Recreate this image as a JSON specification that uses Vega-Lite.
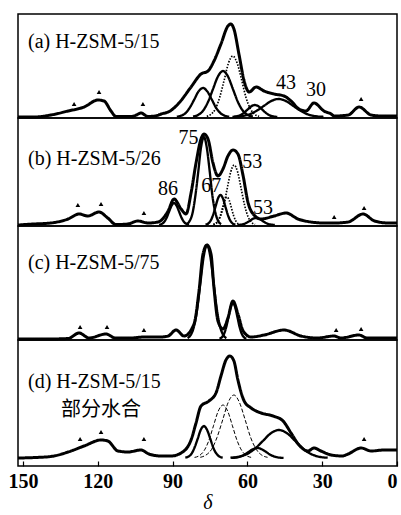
{
"$schema":"https://vega.github.io/schema/vega-lite/v6.json",
"padding":{"left":7,"top":13,"right":0,"bottom":0},
"background":"white",
"spacing":0,
"bounds":"flush",
"config":{"view":{"stroke":"black","strokeWidth":1.5},
"axis":{"labelFont":"Liberation Serif","labelFontSize":20,"labelFontWeight":"bold","labelColor":"black","tickColor":"black","tickWidth":1.2,"titleFont":"Liberation Serif","titleFontSize":20,"titleFontStyle":"italic","titleFontWeight":"normal","titleColor":"black"}},
"datasets":{"s":[
{"p":"a","c":"m","k":"m","d":152,"i":0},{"p":"a","c":"m","k":"m","d":145.6,"i":0},{"p":"a","c":"m","k":"m","d":138.8,"i":2},{"p":"a","c":"m","k":"m","d":131.9,"i":6},{"p":"a","c":"m","k":"m","d":125.5,"i":10},{"p":"a","c":"m","k":"m","d":119.9,"i":17},{"p":"a","c":"m","k":"m","d":117.5,"i":16},{"p":"a","c":"m","k":"m","d":114.7,"i":6},{"p":"a","c":"m","k":"m","d":112.7,"i":0.5},{"p":"a","c":"m","k":"m","d":106.7,"i":0.5},{"p":"a","c":"m","k":"m","d":104.5,"i":2},{"p":"a","c":"m","k":"m","d":102.7,"i":4},{"p":"a","c":"m","k":"m","d":99.9,"i":0.5},{"p":"a","c":"m","k":"m","d":97,"i":1},{"p":"a","c":"m","k":"m","d":94.6,"i":3},{"p":"a","c":"m","k":"m","d":91,"i":6},{"p":"a","c":"m","k":"m","d":87.8,"i":13},{"p":"a","c":"m","k":"m","d":82.6,"i":30},{"p":"a","c":"m","k":"m","d":78.6,"i":43},{"p":"a","c":"m","k":"m","d":75.8,"i":46},{"p":"a","c":"m","k":"m","d":73.4,"i":56},{"p":"a","c":"m","k":"m","d":70.6,"i":73},{"p":"a","c":"m","k":"m","d":67.8,"i":91},{"p":"a","c":"m","k":"m","d":66.6,"i":93},{"p":"a","c":"m","k":"m","d":65.4,"i":88},{"p":"a","c":"m","k":"m","d":63.4,"i":63},{"p":"a","c":"m","k":"m","d":61.3,"i":36},{"p":"a","c":"m","k":"m","d":59.3,"i":25},{"p":"a","c":"m","k":"m","d":56.5,"i":30},{"p":"a","c":"m","k":"m","d":53.3,"i":26},{"p":"a","c":"m","k":"m","d":49.3,"i":23},{"p":"a","c":"m","k":"m","d":45.3,"i":21},{"p":"a","c":"m","k":"m","d":42.5,"i":16},{"p":"a","c":"m","k":"m","d":39.3,"i":8},{"p":"a","c":"m","k":"m","d":36.5,"i":6},{"p":"a","c":"m","k":"m","d":33.3,"i":14},{"p":"a","c":"m","k":"m","d":29.3,"i":6},{"p":"a","c":"m","k":"m","d":26.4,"i":3},{"p":"a","c":"m","k":"m","d":25.2,"i":1},{"p":"a","c":"m","k":"m","d":19.6,"i":2},{"p":"a","c":"m","k":"m","d":15.2,"i":10},{"p":"a","c":"m","k":"m","d":10.4,"i":2},{"p":"a","c":"m","k":"m","d":6.4,"i":1},{"p":"a","c":"m","k":"m","d":0,"i":1},
{"p":"a","c":"c1","k":"s","d":88.3,"i":0.3},{"p":"a","c":"c1","k":"s","d":86.6,"i":1.3},{"p":"a","c":"c1","k":"s","d":84.8,"i":3.9},{"p":"a","c":"c1","k":"s","d":83.1,"i":9.4},{"p":"a","c":"c1","k":"s","d":81.3,"i":17.6},{"p":"a","c":"c1","k":"s","d":79.6,"i":25.6},{"p":"a","c":"c1","k":"s","d":77.8,"i":29},{"p":"a","c":"c1","k":"s","d":76.1,"i":25.6},{"p":"a","c":"c1","k":"s","d":74.3,"i":17.6},{"p":"a","c":"c1","k":"s","d":72.6,"i":9.4},{"p":"a","c":"c1","k":"s","d":70.8,"i":3.9},{"p":"a","c":"c1","k":"s","d":69.1,"i":1.3},{"p":"a","c":"c1","k":"s","d":67.3,"i":0.3},
{"p":"a","c":"c2","k":"s","d":81.8,"i":0.5},{"p":"a","c":"c2","k":"s","d":79.8,"i":2},{"p":"a","c":"c2","k":"s","d":77.8,"i":6.2},{"p":"a","c":"c2","k":"s","d":75.8,"i":15},{"p":"a","c":"c2","k":"s","d":73.8,"i":27.9},{"p":"a","c":"c2","k":"s","d":71.8,"i":40.6},{"p":"a","c":"c2","k":"s","d":69.8,"i":46},{"p":"a","c":"c2","k":"s","d":67.8,"i":40.6},{"p":"a","c":"c2","k":"s","d":65.8,"i":27.9},{"p":"a","c":"c2","k":"s","d":63.8,"i":15},{"p":"a","c":"c2","k":"s","d":61.8,"i":6.2},{"p":"a","c":"c2","k":"s","d":59.8,"i":2},{"p":"a","c":"c2","k":"s","d":57.8,"i":0.5},
{"p":"a","c":"c3","k":"t","d":76.3,"i":0.7},{"p":"a","c":"c3","k":"t","d":74.6,"i":2.7},{"p":"a","c":"c3","k":"t","d":72.8,"i":8.2},{"p":"a","c":"c3","k":"t","d":71.1,"i":19.8},{"p":"a","c":"c3","k":"t","d":69.3,"i":37},{"p":"a","c":"c3","k":"t","d":67.6,"i":53.8},{"p":"a","c":"c3","k":"t","d":65.8,"i":61},{"p":"a","c":"c3","k":"t","d":64.1,"i":53.8},{"p":"a","c":"c3","k":"t","d":62.3,"i":37},{"p":"a","c":"c3","k":"t","d":60.6,"i":19.8},{"p":"a","c":"c3","k":"t","d":58.8,"i":8.2},{"p":"a","c":"c3","k":"t","d":57.1,"i":2.7},{"p":"a","c":"c3","k":"t","d":55.3,"i":0.7},
{"p":"a","c":"c4","k":"s","d":65.5,"i":0.2},{"p":"a","c":"c4","k":"s","d":62.5,"i":0.8},{"p":"a","c":"c4","k":"s","d":59.5,"i":2.4},{"p":"a","c":"c4","k":"s","d":56.5,"i":5.9},{"p":"a","c":"c4","k":"s","d":53.5,"i":10.9},{"p":"a","c":"c4","k":"s","d":50.5,"i":15.9},{"p":"a","c":"c4","k":"s","d":47.5,"i":18},{"p":"a","c":"c4","k":"s","d":44.5,"i":15.9},{"p":"a","c":"c4","k":"s","d":41.5,"i":10.9},{"p":"a","c":"c4","k":"s","d":38.5,"i":5.9},{"p":"a","c":"c4","k":"s","d":35.5,"i":2.4},{"p":"a","c":"c4","k":"s","d":32.5,"i":0.8},{"p":"a","c":"c4","k":"s","d":29.5,"i":0.2},
{"p":"a","c":"c5","k":"s","d":66,"i":0.1},{"p":"a","c":"c5","k":"s","d":64.5,"i":0.5},{"p":"a","c":"c5","k":"s","d":63,"i":1.6},{"p":"a","c":"c5","k":"s","d":61.5,"i":3.9},{"p":"a","c":"c5","k":"s","d":60,"i":7.3},{"p":"a","c":"c5","k":"s","d":58.5,"i":10.6},{"p":"a","c":"c5","k":"s","d":57,"i":12},{"p":"a","c":"c5","k":"s","d":55.5,"i":10.6},{"p":"a","c":"c5","k":"s","d":54,"i":7.3},{"p":"a","c":"c5","k":"s","d":52.5,"i":3.9},{"p":"a","c":"c5","k":"s","d":51,"i":1.6},{"p":"a","c":"c5","k":"s","d":49.5,"i":0.5},{"p":"a","c":"c5","k":"s","d":48,"i":0.1},
{"p":"a","k":"st","d":129.5,"i":13},{"p":"a","k":"st","d":119.5,"i":25},{"p":"a","k":"st","d":101.9,"i":13},{"p":"a","k":"st","d":14.4,"i":18},
{"p":"a","k":"tt","d":148,"i":69,"t":"(a) H-ZSM-5/15"},
{"p":"a","k":"nm","d":44.5,"i":28,"t":"43"},{"p":"a","k":"nm","d":32.5,"i":21,"t":"30"},

{"p":"b","c":"m","k":"m","d":152,"i":0},{"p":"b","c":"m","k":"m","d":145.6,"i":1},{"p":"b","c":"m","k":"m","d":138.8,"i":2},{"p":"b","c":"m","k":"m","d":131.9,"i":6},{"p":"b","c":"m","k":"m","d":127.5,"i":11},{"p":"b","c":"m","k":"m","d":124,"i":9},{"p":"b","c":"m","k":"m","d":119.5,"i":13},{"p":"b","c":"m","k":"m","d":116,"i":7},{"p":"b","c":"m","k":"m","d":112.7,"i":0.5},{"p":"b","c":"m","k":"m","d":108,"i":1},{"p":"b","c":"m","k":"m","d":103.9,"i":4},{"p":"b","c":"m","k":"m","d":99.9,"i":2},{"p":"b","c":"m","k":"m","d":95.8,"i":3},{"p":"b","c":"m","k":"m","d":91.8,"i":14},{"p":"b","c":"m","k":"m","d":89.4,"i":26},{"p":"b","c":"m","k":"m","d":86.6,"i":16},{"p":"b","c":"m","k":"m","d":84.6,"i":11},{"p":"b","c":"m","k":"m","d":82.6,"i":32},{"p":"b","c":"m","k":"m","d":80.6,"i":62},{"p":"b","c":"m","k":"m","d":78.6,"i":86},{"p":"b","c":"m","k":"m","d":77.4,"i":91},{"p":"b","c":"m","k":"m","d":75.8,"i":86},{"p":"b","c":"m","k":"m","d":73.8,"i":62},{"p":"b","c":"m","k":"m","d":71.8,"i":49},{"p":"b","c":"m","k":"m","d":69.8,"i":56},{"p":"b","c":"m","k":"m","d":67.8,"i":69},{"p":"b","c":"m","k":"m","d":65.8,"i":75},{"p":"b","c":"m","k":"m","d":63.8,"i":71},{"p":"b","c":"m","k":"m","d":61.7,"i":49},{"p":"b","c":"m","k":"m","d":59.7,"i":22},{"p":"b","c":"m","k":"m","d":57.7,"i":11},{"p":"b","c":"m","k":"m","d":54.5,"i":6},{"p":"b","c":"m","k":"m","d":49.3,"i":9},{"p":"b","c":"m","k":"m","d":44.5,"i":12},{"p":"b","c":"m","k":"m","d":39.7,"i":6},{"p":"b","c":"m","k":"m","d":34.5,"i":3},{"p":"b","c":"m","k":"m","d":29,"i":2},{"p":"b","c":"m","k":"m","d":25.2,"i":2},{"p":"b","c":"m","k":"m","d":19.6,"i":3},{"p":"b","c":"m","k":"m","d":13.6,"i":11},{"p":"b","c":"m","k":"m","d":9,"i":4},{"p":"b","c":"m","k":"m","d":3.6,"i":2},{"p":"b","c":"m","k":"m","d":0,"i":2},
{"p":"b","c":"c1","k":"s","d":95.4,"i":0.2},{"p":"b","c":"c1","k":"s","d":94.4,"i":1},{"p":"b","c":"c1","k":"s","d":93.4,"i":3},{"p":"b","c":"c1","k":"s","d":92.4,"i":7.2},{"p":"b","c":"c1","k":"s","d":91.4,"i":13.4},{"p":"b","c":"c1","k":"s","d":90.4,"i":19.4},{"p":"b","c":"c1","k":"s","d":89.4,"i":22},{"p":"b","c":"c1","k":"s","d":88.4,"i":19.4},{"p":"b","c":"c1","k":"s","d":87.4,"i":13.4},{"p":"b","c":"c1","k":"s","d":86.4,"i":7.2},{"p":"b","c":"c1","k":"s","d":85.4,"i":3},{"p":"b","c":"c1","k":"s","d":84.4,"i":1},{"p":"b","c":"c1","k":"s","d":83.4,"i":0.2},
{"p":"b","c":"c2","k":"s","d":84.3,"i":1},{"p":"b","c":"c2","k":"s","d":83.2,"i":3.9},{"p":"b","c":"c2","k":"s","d":82,"i":11.9},{"p":"b","c":"c2","k":"s","d":80.9,"i":28.6},{"p":"b","c":"c2","k":"s","d":79.7,"i":53.4},{"p":"b","c":"c2","k":"s","d":78.6,"i":77.6},{"p":"b","c":"c2","k":"s","d":77.4,"i":88},{"p":"b","c":"c2","k":"s","d":76.3,"i":77.6},{"p":"b","c":"c2","k":"s","d":75.1,"i":53.4},{"p":"b","c":"c2","k":"s","d":74,"i":28.6},{"p":"b","c":"c2","k":"s","d":72.8,"i":11.9},{"p":"b","c":"c2","k":"s","d":71.7,"i":3.9},{"p":"b","c":"c2","k":"s","d":70.5,"i":1},
{"p":"b","c":"c3","k":"s","d":76.8,"i":0.3},{"p":"b","c":"c3","k":"s","d":75.8,"i":1.3},{"p":"b","c":"c3","k":"s","d":74.8,"i":4.1},{"p":"b","c":"c3","k":"s","d":73.8,"i":9.8},{"p":"b","c":"c3","k":"s","d":72.8,"i":18.2},{"p":"b","c":"c3","k":"s","d":71.8,"i":26.5},{"p":"b","c":"c3","k":"s","d":70.8,"i":30},{"p":"b","c":"c3","k":"s","d":69.8,"i":26.5},{"p":"b","c":"c3","k":"s","d":68.8,"i":18.2},{"p":"b","c":"c3","k":"s","d":67.8,"i":9.8},{"p":"b","c":"c3","k":"s","d":66.8,"i":4.1},{"p":"b","c":"c3","k":"s","d":65.8,"i":1.3},{"p":"b","c":"c3","k":"s","d":64.8,"i":0.3},
{"p":"b","c":"c4","k":"t","d":73.6,"i":0.3},{"p":"b","c":"c4","k":"t","d":72.7,"i":1.2},{"p":"b","c":"c4","k":"t","d":71.8,"i":3.8},{"p":"b","c":"c4","k":"t","d":70.9,"i":9.1},{"p":"b","c":"c4","k":"t","d":70,"i":17},{"p":"b","c":"c4","k":"t","d":69.1,"i":24.7},{"p":"b","c":"c4","k":"t","d":68.2,"i":28},{"p":"b","c":"c4","k":"t","d":67.3,"i":24.7},{"p":"b","c":"c4","k":"t","d":66.4,"i":17},{"p":"b","c":"c4","k":"t","d":65.5,"i":9.1},{"p":"b","c":"c4","k":"t","d":64.6,"i":3.8},{"p":"b","c":"c4","k":"t","d":63.7,"i":1.2},{"p":"b","c":"c4","k":"t","d":62.8,"i":0.3},
{"p":"b","c":"c5","k":"t","d":73.7,"i":0.7},{"p":"b","c":"c5","k":"t","d":72.3,"i":2.6},{"p":"b","c":"c5","k":"t","d":70.9,"i":8.1},{"p":"b","c":"c5","k":"t","d":69.5,"i":19.5},{"p":"b","c":"c5","k":"t","d":68.1,"i":36.4},{"p":"b","c":"c5","k":"t","d":66.7,"i":52.9},{"p":"b","c":"c5","k":"t","d":65.3,"i":60},{"p":"b","c":"c5","k":"t","d":63.9,"i":52.9},{"p":"b","c":"c5","k":"t","d":62.5,"i":36.4},{"p":"b","c":"c5","k":"t","d":61.1,"i":19.5},{"p":"b","c":"c5","k":"t","d":59.7,"i":8.1},{"p":"b","c":"c5","k":"t","d":58.3,"i":2.6},{"p":"b","c":"c5","k":"t","d":56.9,"i":0.7},
{"p":"b","c":"c6","k":"s","d":64,"i":0.1},{"p":"b","c":"c6","k":"s","d":62.8,"i":0.3},{"p":"b","c":"c6","k":"s","d":61.5,"i":0.9},{"p":"b","c":"c6","k":"s","d":60.3,"i":2.3},{"p":"b","c":"c6","k":"s","d":59,"i":4.2},{"p":"b","c":"c6","k":"s","d":57.8,"i":6.2},{"p":"b","c":"c6","k":"s","d":56.5,"i":7},{"p":"b","c":"c6","k":"s","d":55.3,"i":6.2},{"p":"b","c":"c6","k":"s","d":54,"i":4.2},{"p":"b","c":"c6","k":"s","d":52.8,"i":2.3},{"p":"b","c":"c6","k":"s","d":51.5,"i":0.9},{"p":"b","c":"c6","k":"s","d":50.3,"i":0.3},{"p":"b","c":"c6","k":"s","d":49,"i":0.1},
{"p":"b","k":"st","d":128,"i":20},{"p":"b","k":"st","d":118.7,"i":21},{"p":"b","k":"st","d":101.5,"i":12},{"p":"b","k":"st","d":25.2,"i":8},{"p":"b","k":"st","d":13.2,"i":17},
{"p":"b","k":"tt","d":148,"i":60,"t":"(b) H-ZSM-5/26"},
{"p":"b","k":"nm","d":83.6,"i":81,"t":"75"},{"p":"b","k":"nm","d":91.8,"i":30,"t":"86"},{"p":"b","k":"nm","d":74.5,"i":33,"t":"67"},{"p":"b","k":"nm","d":58.1,"i":57,"t":"53"},{"p":"b","k":"nm","d":53.7,"i":11,"t":"53"},

{"p":"c","c":"m","k":"m","d":152,"i":0},{"p":"c","c":"m","k":"m","d":140,"i":0},{"p":"c","c":"m","k":"m","d":131.9,"i":0.5},{"p":"c","c":"m","k":"m","d":127.5,"i":6},{"p":"c","c":"m","k":"m","d":123.5,"i":1},{"p":"c","c":"m","k":"m","d":116.7,"i":5},{"p":"c","c":"m","k":"m","d":113,"i":1},{"p":"c","c":"m","k":"m","d":107,"i":1},{"p":"c","c":"m","k":"m","d":101.5,"i":2},{"p":"c","c":"m","k":"m","d":94.6,"i":2},{"p":"c","c":"m","k":"m","d":91.8,"i":3},{"p":"c","c":"m","k":"m","d":88.6,"i":9},{"p":"c","c":"m","k":"m","d":85.4,"i":3},{"p":"c","c":"m","k":"m","d":81.4,"i":15},{"p":"c","c":"m","k":"m","d":79.4,"i":48},{"p":"c","c":"m","k":"m","d":77.8,"i":85},{"p":"c","c":"m","k":"m","d":76.2,"i":94},{"p":"c","c":"m","k":"m","d":74.6,"i":85},{"p":"c","c":"m","k":"m","d":73.4,"i":51},{"p":"c","c":"m","k":"m","d":71.8,"i":18},{"p":"c","c":"m","k":"m","d":69.8,"i":10},{"p":"c","c":"m","k":"m","d":67.8,"i":21},{"p":"c","c":"m","k":"m","d":65.8,"i":38},{"p":"c","c":"m","k":"m","d":63.8,"i":25},{"p":"c","c":"m","k":"m","d":61.7,"i":8},{"p":"c","c":"m","k":"m","d":58.5,"i":2},{"p":"c","c":"m","k":"m","d":53.3,"i":4},{"p":"c","c":"m","k":"m","d":45.3,"i":9},{"p":"c","c":"m","k":"m","d":38.5,"i":3},{"p":"c","c":"m","k":"m","d":32,"i":1},{"p":"c","c":"m","k":"m","d":25.2,"i":3},{"p":"c","c":"m","k":"m","d":22.5,"i":1},{"p":"c","c":"m","k":"m","d":15.2,"i":4},{"p":"c","c":"m","k":"m","d":12,"i":1},{"p":"c","c":"m","k":"m","d":0,"i":1},
{"p":"c","c":"c1","k":"s","d":84,"i":1},{"p":"c","c":"c1","k":"s","d":82.7,"i":4.1},{"p":"c","c":"c1","k":"s","d":81.4,"i":12.7},{"p":"c","c":"c1","k":"s","d":80.1,"i":30.6},{"p":"c","c":"c1","k":"s","d":78.8,"i":57.1},{"p":"c","c":"c1","k":"s","d":77.5,"i":82.9},{"p":"c","c":"c1","k":"s","d":76.2,"i":94},{"p":"c","c":"c1","k":"s","d":74.9,"i":82.9},{"p":"c","c":"c1","k":"s","d":73.6,"i":57.1},{"p":"c","c":"c1","k":"s","d":72.3,"i":30.6},{"p":"c","c":"c1","k":"s","d":71,"i":12.7},{"p":"c","c":"c1","k":"s","d":69.7,"i":4.1},{"p":"c","c":"c1","k":"s","d":68.4,"i":1},
{"p":"c","c":"c2","k":"s","d":71.2,"i":0.4},{"p":"c","c":"c2","k":"s","d":70.3,"i":1.6},{"p":"c","c":"c2","k":"s","d":69.4,"i":4.9},{"p":"c","c":"c2","k":"s","d":68.5,"i":11.7},{"p":"c","c":"c2","k":"s","d":67.6,"i":21.9},{"p":"c","c":"c2","k":"s","d":66.7,"i":31.8},{"p":"c","c":"c2","k":"s","d":65.8,"i":36},{"p":"c","c":"c2","k":"s","d":64.9,"i":31.8},{"p":"c","c":"c2","k":"s","d":64,"i":21.9},{"p":"c","c":"c2","k":"s","d":63.1,"i":11.7},{"p":"c","c":"c2","k":"s","d":62.2,"i":4.9},{"p":"c","c":"c2","k":"s","d":61.3,"i":1.6},{"p":"c","c":"c2","k":"s","d":60.4,"i":0.4},
{"p":"c","k":"st","d":127.1,"i":12},{"p":"c","k":"st","d":116.3,"i":12},{"p":"c","k":"st","d":101.5,"i":9},{"p":"c","k":"st","d":24.4,"i":9},{"p":"c","k":"st","d":14.4,"i":10},
{"p":"c","k":"tt","d":148,"i":70,"t":"(c) H-ZSM-5/75"},

{"p":"d","c":"m","k":"m","d":152,"i":0},{"p":"d","c":"m","k":"m","d":145,"i":0.5},{"p":"d","c":"m","k":"m","d":138.8,"i":1.5},{"p":"d","c":"m","k":"m","d":131.9,"i":6},{"p":"d","c":"m","k":"m","d":125.5,"i":12},{"p":"d","c":"m","k":"m","d":118.7,"i":18},{"p":"d","c":"m","k":"m","d":116,"i":17},{"p":"d","c":"m","k":"m","d":111.9,"i":7},{"p":"d","c":"m","k":"m","d":107.9,"i":6},{"p":"d","c":"m","k":"m","d":102.7,"i":8},{"p":"d","c":"m","k":"m","d":99.5,"i":4},{"p":"d","c":"m","k":"m","d":94.6,"i":2},{"p":"d","c":"m","k":"m","d":90.6,"i":2},{"p":"d","c":"m","k":"m","d":86.6,"i":5},{"p":"d","c":"m","k":"m","d":82.6,"i":18},{"p":"d","c":"m","k":"m","d":80.6,"i":35},{"p":"d","c":"m","k":"m","d":78.6,"i":52},{"p":"d","c":"m","k":"m","d":75.4,"i":57},{"p":"d","c":"m","k":"m","d":72.6,"i":65},{"p":"d","c":"m","k":"m","d":70.6,"i":82},{"p":"d","c":"m","k":"m","d":68.6,"i":98},{"p":"d","c":"m","k":"m","d":67,"i":102},{"p":"d","c":"m","k":"m","d":65.4,"i":97},{"p":"d","c":"m","k":"m","d":63.8,"i":78},{"p":"d","c":"m","k":"m","d":61.3,"i":57},{"p":"d","c":"m","k":"m","d":58.5,"i":50},{"p":"d","c":"m","k":"m","d":54.5,"i":45},{"p":"d","c":"m","k":"m","d":49.7,"i":42},{"p":"d","c":"m","k":"m","d":45.7,"i":37},{"p":"d","c":"m","k":"m","d":42.5,"i":25},{"p":"d","c":"m","k":"m","d":39.3,"i":13},{"p":"d","c":"m","k":"m","d":35.7,"i":7},{"p":"d","c":"m","k":"m","d":33.3,"i":10},{"p":"d","c":"m","k":"m","d":30.5,"i":7},{"p":"d","c":"m","k":"m","d":26.4,"i":3},{"p":"d","c":"m","k":"m","d":22,"i":2},{"p":"d","c":"m","k":"m","d":19.6,"i":4},{"p":"d","c":"m","k":"m","d":14.4,"i":10},{"p":"d","c":"m","k":"m","d":10.4,"i":7},{"p":"d","c":"m","k":"m","d":5.2,"i":8},{"p":"d","c":"m","k":"m","d":0,"i":8},
{"p":"d","c":"c1","k":"s","d":84.9,"i":0.4},{"p":"d","c":"c1","k":"s","d":83.7,"i":1.4},{"p":"d","c":"c1","k":"s","d":82.4,"i":4.3},{"p":"d","c":"c1","k":"s","d":81.2,"i":10.4},{"p":"d","c":"c1","k":"s","d":79.9,"i":19.4},{"p":"d","c":"c1","k":"s","d":78.7,"i":28.2},{"p":"d","c":"c1","k":"s","d":77.4,"i":32},{"p":"d","c":"c1","k":"s","d":76.2,"i":28.2},{"p":"d","c":"c1","k":"s","d":74.9,"i":19.4},{"p":"d","c":"c1","k":"s","d":73.7,"i":10.4},{"p":"d","c":"c1","k":"s","d":72.4,"i":4.3},{"p":"d","c":"c1","k":"s","d":71.2,"i":1.4},{"p":"d","c":"c1","k":"s","d":69.9,"i":0.4},
{"p":"d","c":"c2","k":"h","d":81.2,"i":0.6},{"p":"d","c":"c2","k":"h","d":79.3,"i":2.3},{"p":"d","c":"c2","k":"h","d":77.4,"i":7.2},{"p":"d","c":"c2","k":"h","d":75.5,"i":17.2},{"p":"d","c":"c2","k":"h","d":73.6,"i":32.2},{"p":"d","c":"c2","k":"h","d":71.7,"i":46.8},{"p":"d","c":"c2","k":"h","d":69.8,"i":53},{"p":"d","c":"c2","k":"h","d":67.9,"i":46.8},{"p":"d","c":"c2","k":"h","d":66,"i":32.2},{"p":"d","c":"c2","k":"h","d":64.1,"i":17.2},{"p":"d","c":"c2","k":"h","d":62.2,"i":7.2},{"p":"d","c":"c2","k":"h","d":60.3,"i":2.3},{"p":"d","c":"c2","k":"h","d":58.4,"i":0.6},
{"p":"d","c":"c3","k":"h","d":78.9,"i":0.7},{"p":"d","c":"c3","k":"h","d":76.7,"i":2.8},{"p":"d","c":"c3","k":"h","d":74.4,"i":8.5},{"p":"d","c":"c3","k":"h","d":72.2,"i":20.5},{"p":"d","c":"c3","k":"h","d":69.9,"i":38.2},{"p":"d","c":"c3","k":"h","d":67.7,"i":55.6},{"p":"d","c":"c3","k":"h","d":65.4,"i":63},{"p":"d","c":"c3","k":"h","d":63.2,"i":55.6},{"p":"d","c":"c3","k":"h","d":60.9,"i":38.2},{"p":"d","c":"c3","k":"h","d":58.7,"i":20.5},{"p":"d","c":"c3","k":"h","d":56.4,"i":8.5},{"p":"d","c":"c3","k":"h","d":54.2,"i":2.8},{"p":"d","c":"c3","k":"h","d":51.9,"i":0.7},
{"p":"d","c":"c4","k":"s","d":66.8,"i":0.3},{"p":"d","c":"c4","k":"s","d":63.6,"i":1.2},{"p":"d","c":"c4","k":"s","d":60.3,"i":3.8},{"p":"d","c":"c4","k":"s","d":57.1,"i":9.1},{"p":"d","c":"c4","k":"s","d":53.8,"i":17},{"p":"d","c":"c4","k":"s","d":50.6,"i":24.7},{"p":"d","c":"c4","k":"s","d":47.3,"i":28},{"p":"d","c":"c4","k":"s","d":44.1,"i":24.7},{"p":"d","c":"c4","k":"s","d":40.8,"i":17},{"p":"d","c":"c4","k":"s","d":37.6,"i":9.1},{"p":"d","c":"c4","k":"s","d":34.3,"i":3.8},{"p":"d","c":"c4","k":"s","d":31.1,"i":1.2},{"p":"d","c":"c4","k":"s","d":27.8,"i":0.3},
{"p":"d","c":"c5","k":"s","d":66.5,"i":0.1},{"p":"d","c":"c5","k":"s","d":64.8,"i":0.4},{"p":"d","c":"c5","k":"s","d":63,"i":1.4},{"p":"d","c":"c5","k":"s","d":61.3,"i":3.2},{"p":"d","c":"c5","k":"s","d":59.5,"i":6.1},{"p":"d","c":"c5","k":"s","d":57.8,"i":8.8},{"p":"d","c":"c5","k":"s","d":56,"i":10},{"p":"d","c":"c5","k":"s","d":54.3,"i":8.8},{"p":"d","c":"c5","k":"s","d":52.5,"i":6.1},{"p":"d","c":"c5","k":"s","d":50.8,"i":3.2},{"p":"d","c":"c5","k":"s","d":49,"i":1.4},{"p":"d","c":"c5","k":"s","d":47.3,"i":0.4},{"p":"d","c":"c5","k":"s","d":45.5,"i":0.1},
{"p":"d","k":"st","d":127.1,"i":19},{"p":"d","k":"st","d":118.7,"i":26},{"p":"d","k":"st","d":101.5,"i":19},{"p":"d","k":"st","d":13.2,"i":19},
{"p":"d","k":"tt","d":148,"i":70,"t":"(d) H-ZSM-5/15"},
{"p":"d","k":"tt","d":134.8,"i":42,"t":"部分水合"}
]},
"data":{"name":"s"},
"vconcat":[
{"width":379,"height":104,
"transform":[{"filter":"datum.p==='a'"}],
"encoding":{"x":{"field":"d","type":"quantitative","scale":{"domain":[152,0]},"axis":null},"y":{"field":"i","type":"quantitative","scale":{"domain":[-1,103]},"axis":null}},
"layer":[
{"transform":[{"filter":"datum.k==='m'||datum.k==='s'||datum.k==='t'||datum.k==='h'"}],
"mark":{"type":"line","interpolate":"monotone","color":"black"},
"encoding":{"detail":{"field":"c"},"order":{"field":"d","sort":"descending"},
"strokeWidth":{"field":"k","type":"nominal","scale":{"domain":["m","s","t","h"],"range":[3,1,1.6,1.3]},"legend":null},
"strokeDash":{"field":"k","type":"nominal","scale":{"domain":["m","s","t","h"],"range":[[1,0],[1,0],[1.5,1.5],[4,2]]},"legend":null}}},
{"transform":[{"filter":"datum.k==='st'"}],"mark":{"type":"point","shape":"triangle-up","filled":true,"size":22,"color":"black","opacity":1}},
{"transform":[{"filter":"datum.k==='tt'"}],"mark":{"type":"text","align":"left","baseline":"alphabetic","font":"Liberation Serif, Noto Sans CJK SC","fontSize":20,"color":"black"},"encoding":{"text":{"field":"t"}}},
{"transform":[{"filter":"datum.k==='nm'"}],"mark":{"type":"text","align":"center","baseline":"alphabetic","font":"Liberation Serif","fontSize":20,"color":"black"},"encoding":{"text":{"field":"t"}}}
]},
{"width":379,"height":108,
"transform":[{"filter":"datum.p==='b'"}],
"encoding":{"x":{"field":"d","type":"quantitative","scale":{"domain":[152,0]},"axis":null},"y":{"field":"i","type":"quantitative","scale":{"domain":[-1,107]},"axis":null}},
"layer":[
{"transform":[{"filter":"datum.k==='m'||datum.k==='s'||datum.k==='t'||datum.k==='h'"}],
"mark":{"type":"line","interpolate":"monotone","color":"black"},
"encoding":{"detail":{"field":"c"},"order":{"field":"d","sort":"descending"},
"strokeWidth":{"field":"k","type":"nominal","scale":{"domain":["m","s","t","h"],"range":[3,1,1.6,1.3]},"legend":null},
"strokeDash":{"field":"k","type":"nominal","scale":{"domain":["m","s","t","h"],"range":[[1,0],[1,0],[1.5,1.5],[4,2]]},"legend":null}}},
{"transform":[{"filter":"datum.k==='st'"}],"mark":{"type":"point","shape":"triangle-up","filled":true,"size":22,"color":"black","opacity":1}},
{"transform":[{"filter":"datum.k==='tt'"}],"mark":{"type":"text","align":"left","baseline":"alphabetic","font":"Liberation Serif, Noto Sans CJK SC","fontSize":20,"color":"black"},"encoding":{"text":{"field":"t"}}},
{"transform":[{"filter":"datum.k==='nm'"}],"mark":{"type":"text","align":"center","baseline":"alphabetic","font":"Liberation Serif","fontSize":20,"color":"black"},"encoding":{"text":{"field":"t"}}}
]},
{"width":379,"height":114,
"transform":[{"filter":"datum.p==='c'"}],
"encoding":{"x":{"field":"d","type":"quantitative","scale":{"domain":[152,0]},"axis":null},"y":{"field":"i","type":"quantitative","scale":{"domain":[-1,113]},"axis":null}},
"layer":[
{"transform":[{"filter":"datum.k==='m'||datum.k==='s'||datum.k==='t'||datum.k==='h'"}],
"mark":{"type":"line","interpolate":"monotone","color":"black"},
"encoding":{"detail":{"field":"c"},"order":{"field":"d","sort":"descending"},
"strokeWidth":{"field":"k","type":"nominal","scale":{"domain":["m","s","t","h"],"range":[3,1,1.6,1.3]},"legend":null},
"strokeDash":{"field":"k","type":"nominal","scale":{"domain":["m","s","t","h"],"range":[[1,0],[1,0],[1.5,1.5],[4,2]]},"legend":null}}},
{"transform":[{"filter":"datum.k==='st'"}],"mark":{"type":"point","shape":"triangle-up","filled":true,"size":22,"color":"black","opacity":1}},
{"transform":[{"filter":"datum.k==='tt'"}],"mark":{"type":"text","align":"left","baseline":"alphabetic","font":"Liberation Serif, Noto Sans CJK SC","fontSize":20,"color":"black"},"encoding":{"text":{"field":"t"}}}
]},
{"width":379,"height":126,
"transform":[{"filter":"datum.p==='d'"}],
"encoding":{"x":{"field":"d","type":"quantitative","scale":{"domain":[152,0]},"axis":{"values":[150,120,90,60,30,0],"title":"δ","tickSize":-5,"labelPadding":10,"domain":false,"grid":false,"titlePadding":1}},"y":{"field":"i","type":"quantitative","scale":{"domain":[-8,118]},"axis":null}},
"layer":[
{"transform":[{"filter":"datum.k==='m'||datum.k==='s'||datum.k==='t'||datum.k==='h'"}],
"mark":{"type":"line","interpolate":"monotone","color":"black"},
"encoding":{"detail":{"field":"c"},"order":{"field":"d","sort":"descending"},
"strokeWidth":{"field":"k","type":"nominal","scale":{"domain":["m","s","t","h"],"range":[3,1,1.6,1.3]},"legend":null},
"strokeDash":{"field":"k","type":"nominal","scale":{"domain":["m","s","t","h"],"range":[[1,0],[1,0],[1.5,1.5],[4,2]]},"legend":null}}},
{"transform":[{"filter":"datum.k==='st'"}],"mark":{"type":"point","shape":"triangle-up","filled":true,"size":22,"color":"black","opacity":1}},
{"transform":[{"filter":"datum.k==='tt'"}],"mark":{"type":"text","align":"left","baseline":"alphabetic","font":"Liberation Serif, Noto Sans CJK SC","fontSize":20,"color":"black"},"encoding":{"text":{"field":"t"}}}
]}
]
}
